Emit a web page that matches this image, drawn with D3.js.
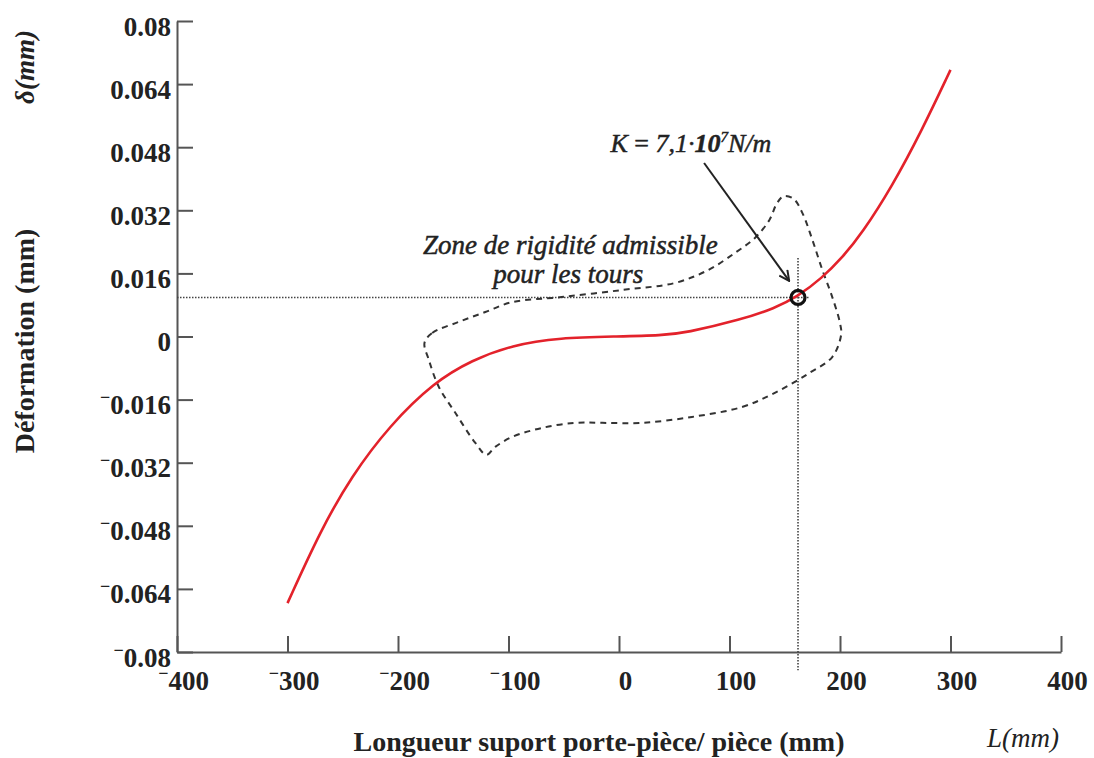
<!DOCTYPE html>
<html>
<head>
<meta charset="utf-8">
<script src="https://cdn.jsdelivr.net/npm/d3@7"></script>
<style>
  body { margin: 0; background: #fff; }
  svg { display: block; }
  .tick text { font-family: "Liberation Serif", "Times New Roman", serif; font-weight: bold; font-size: 27px; fill: #222; }
  .title { font-family: "Liberation Serif", "Times New Roman", serif; fill: #222; }
  .note { stroke: #222; stroke-width: 0.5px; }
</style>
</head>
<body>
<div id="chart"></div>
<script>
// axis ticks
const xTicks = [-400, -300, -200, -100, 0, 100, 200, 300, 400];
const yTicks = [-0.08, -0.064, -0.048, -0.032, -0.016, 0, 0.016, 0.032, 0.048, 0.064, 0.08];

// red curve: deformation vs length
const curveL = [-300, -300, -270, -242, -208, -167, -133, -97, -54, 0, 39, 60, 111, 141, 161, 184, 202, 220, 247, 274, 300, 300];
const curveD = [-0.0676, -0.0676, -0.0491, -0.0354, -0.0227, -0.0115, -0.0060, -0.0022, -0.0003, 0, 0.0003, 0.0009, 0.0043, 0.0072, 0.0100, 0.0149, 0.0200, 0.0262, 0.0380, 0.0522, 0.0676, 0.0676];

// dashed zone of admissible rigidity (closed outline)
const zoneL = [-176, -169, -145, -121, -97, -52, 3, 51, 81, 105, 123, 136, 143, 149, 158, 166, 175, 184, 193, 200, 201, 193, 172, 141, 111, 66, 21, -15, -40, -70, -97, -112, -120, -130, -148, -163, -172];
const zoneD = [-0.0016, 0.0009, 0.0037, 0.0062, 0.0087, 0.0100, 0.0118, 0.0136, 0.0169, 0.0212, 0.0250, 0.0295, 0.0338, 0.0356, 0.0349, 0.0313, 0.0245, 0.0169, 0.0100, 0.0034, 0.0004, -0.0052, -0.0093, -0.0143, -0.0179, -0.0204, -0.0219, -0.0219, -0.0219, -0.0232, -0.0255, -0.0280, -0.0300, -0.0270, -0.0194, -0.0128, -0.0060];

// marked point K and its guide lines
const markPoint = [162, 0.0099];
const guideXEnd = 172;
const guideYRange = [0.0199, -0.0846];
const arrowFrom = [77, 0.0440];
const arrowTo = [154, 0.0141];

const width = 1094;
const height = 758;

document.addEventListener('DOMContentLoaded', () => {
  drawChart();
});

function drawChart() {
  const svg = d3.select('#chart')
    .append('svg')
    .attr('width', width)
    .attr('height', height);

  const x = d3.scaleLinear().domain([-400, 400]).range([177, 1061]);
  const y = d3.scaleLinear().domain([-0.08, 0.08]).range([652, 21]);

  // labels with the small raised minus sign, base = baseline shift in px
  function minusLabel(sel, base) {
    sel.attr('dy', null).each(function (d) {
      const t = d3.select(this);
      t.text(null);
      if (d < 0) {
        t.append('tspan').attr('font-size', 18).attr('dy', base - 11).text('\u2212');
        t.append('tspan').attr('dy', 11).text(String(Math.abs(d)));
      } else {
        t.append('tspan').attr('dy', base).text(String(d));
      }
    });
  }

  // Y axis
  const yAxis = svg.append('g')
    .attr('transform', `translate(${x(-400)},0)`)
    .call(d3.axisLeft(y).tickValues(yTicks).tickSize(-16).tickSizeOuter(0).tickPadding(6));
  yAxis.selectAll('.tick text').call(minusLabel, 14);

  // X axis
  const xAxis = svg.append('g')
    .attr('transform', `translate(0,${y(-0.08)})`)
    .call(d3.axisBottom(x).tickValues(xTicks).tickSize(-16).tickSizeOuter(0).tickPadding(0));
  xAxis.selectAll('.tick text').attr('x', 6).call(minusLabel, 38);

  svg.selectAll('.domain, .tick line').attr('stroke', '#555').attr('stroke-width', 2);

  // guide lines (dotted)
  const guides = svg.append('g')
    .attr('stroke', '#444')
    .attr('stroke-width', 1.6)
    .attr('stroke-dasharray', '1.5,1.5');
  guides.append('line')
    .attr('x1', x(-400)).attr('x2', x(guideXEnd))
    .attr('y1', y(markPoint[1])).attr('y2', y(markPoint[1]));
  guides.append('line')
    .attr('x1', x(markPoint[0])).attr('x2', x(markPoint[0]))
    .attr('y1', y(guideYRange[0])).attr('y2', y(guideYRange[1]));

  // dashed zone
  const zone = zoneL.map((l, i) => [l, zoneD[i]]);
  svg.append('path')
    .datum(zone)
    .attr('fill', 'none')
    .attr('stroke', '#333')
    .attr('stroke-width', 2)
    .attr('stroke-dasharray', '6,5')
    .attr('d', d3.line()
      .x((d) => x(d[0]))
      .y((d) => y(d[1]))
      .curve(d3.curveCatmullRomClosed.alpha(0.5)));

  // red curve (smoothed through the read points)
  const curve = curveL.map((l, i) => [l, curveD[i]]);
  svg.append('path')
    .datum(curve)
    .attr('fill', 'none')
    .attr('stroke', '#e3222b')
    .attr('stroke-width', 2.6)
    .attr('d', d3.line()
      .x((d) => x(d[0]))
      .y((d) => y(d[1]))
      .curve(d3.curveBasis));

  // marked point
  svg.append('circle')
    .attr('cx', x(markPoint[0]))
    .attr('cy', y(markPoint[1]))
    .attr('r', 7)
    .attr('fill', 'none')
    .attr('stroke', '#111')
    .attr('stroke-width', 3.2);

  // arrow
  svg.append('defs').append('marker')
    .attr('id', 'arrow')
    .attr('viewBox', '0 0 12 12')
    .attr('refX', 11).attr('refY', 6)
    .attr('markerWidth', 12).attr('markerHeight', 12)
    .attr('markerUnits', 'userSpaceOnUse')
    .attr('orient', 'auto')
    .append('path')
    .attr('d', 'M1,1 L11,6 L1,11')
    .attr('fill', 'none')
    .attr('stroke', '#222')
    .attr('stroke-width', 2);

  svg.append('line')
    .attr('x1', x(arrowFrom[0])).attr('y1', y(arrowFrom[1]))
    .attr('x2', x(arrowTo[0])).attr('y2', y(arrowTo[1]))
    .attr('stroke', '#222')
    .attr('stroke-width', 2)
    .attr('marker-end', 'url(#arrow)');

  // annotation texts
  const kText = svg.append('text')
    .attr('class', 'title note')
    .attr('x', x(65)).attr('y', y(0.0468))
    .attr('text-anchor', 'middle')
    .attr('font-size', 26)
    .attr('font-style', 'italic');
  kText.append('tspan').text('K ');
  kText.append('tspan').attr('font-style', 'normal').text('=');
  kText.append('tspan').text(' 7,1·');
  kText.append('tspan').attr('font-weight', 'bold').text('10');
  kText.append('tspan').attr('font-size', 15).attr('dy', -10).text('7');
  kText.append('tspan').attr('dy', 10).text('N/m');

  svg.append('text')
    .attr('class', 'title note')
    .attr('x', x(-44)).attr('y', y(0.0210))
    .attr('text-anchor', 'middle')
    .attr('font-size', 27)
    .attr('font-style', 'italic')
    .text('Zone de rigidité admissible');

  svg.append('text')
    .attr('class', 'title note')
    .attr('x', x(-46)).attr('y', y(0.0136))
    .attr('text-anchor', 'middle')
    .attr('font-size', 27)
    .attr('font-style', 'italic')
    .text('pour les tours');

  // axis titles
  svg.append('text')
    .attr('class', 'title')
    .attr('transform', 'translate(34,341) rotate(-90)')
    .attr('text-anchor', 'middle')
    .attr('font-size', 28)
    .attr('font-weight', 'bold')
    .text('Déformation (mm)');

  svg.append('text')
    .attr('class', 'title')
    .attr('transform', 'translate(34,67) rotate(-90)')
    .attr('text-anchor', 'middle')
    .attr('font-size', 27)
    .attr('font-weight', 'bold')
    .attr('font-style', 'italic')
    .text('δ(mm)');

  svg.append('text')
    .attr('class', 'title')
    .attr('x', 599).attr('y', 751)
    .attr('text-anchor', 'middle')
    .attr('font-size', 28)
    .attr('font-weight', 'bold')
    .text('Longueur suport porte-pièce/ pièce (mm)');

  svg.append('text')
    .attr('class', 'title')
    .attr('x', 987).attr('y', 747)
    .attr('font-size', 27)
    .attr('font-style', 'italic')
    .text('L(mm)');
}
</script>
</body>
</html>
